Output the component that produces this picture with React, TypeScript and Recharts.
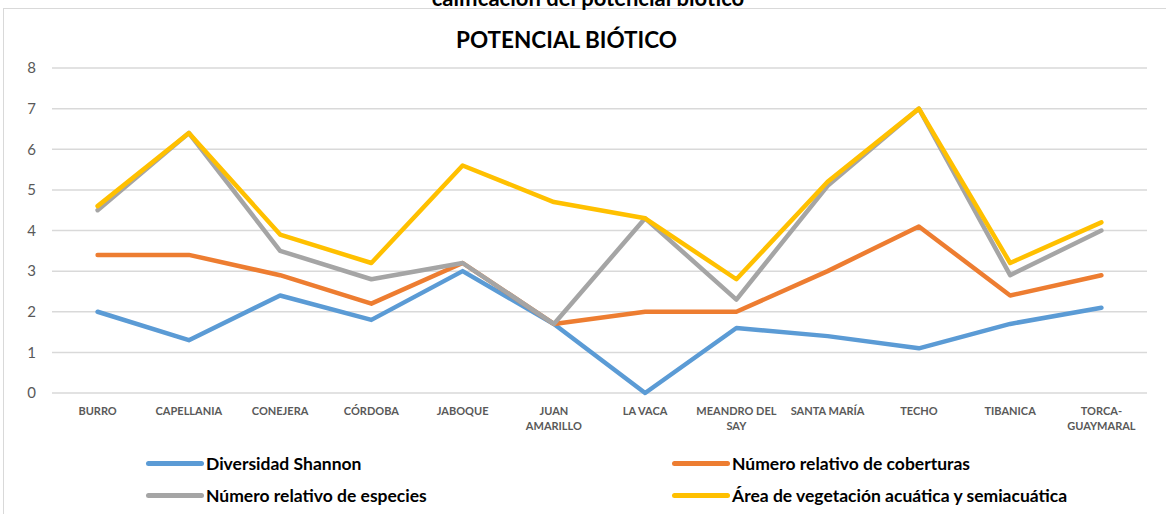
import { LineChart, Line, XAxis, YAxis, CartesianGrid } from "recharts";

const categories = [
  "BURRO",
  "CAPELLANIA",
  "CONEJERA",
  "CÓRDOBA",
  "JABOQUE",
  "JUAN AMARILLO",
  "LA VACA",
  "MEANDRO DEL SAY",
  "SANTA MARÍA",
  "TECHO",
  "TIBANICA",
  "TORCA-GUAYMARAL",
];

// how each category label wraps under the axis
const tickLines: Record<string, string[]> = {
  "JUAN AMARILLO": ["JUAN", "AMARILLO"],
  "MEANDRO DEL SAY": ["MEANDRO DEL", "SAY"],
  "TORCA-GUAYMARAL": ["TORCA-", "GUAYMARAL"],
};

const shannon = [2.0, 1.3, 2.4, 1.8, 3.0, 1.7, 0, 1.6, 1.4, 1.1, 1.7, 2.1];
const coberturas = [3.4, 3.4, 2.9, 2.2, 3.2, 1.7, 2.0, 2.0, 3.0, 4.1, 2.4, 2.9];
const especies = [4.5, 6.4, 3.5, 2.8, 3.2, 1.7, 4.3, 2.3, 5.1, 7.0, 2.9, 4.0];
const vegetacion = [4.6, 6.4, 3.9, 3.2, 5.6, 4.7, 4.3, 2.8, 5.2, 7.0, 3.2, 4.2];

const yTicks = [0, 1, 2, 3, 4, 5, 6, 7, 8];

const series = [
  { key: "shannon", name: "Diversidad Shannon", color: "#5B9BD5" },
  { key: "coberturas", name: "Número relativo de coberturas", color: "#ED7D31" },
  { key: "especies", name: "Número relativo de especies", color: "#A5A5A5" },
  { key: "vegetacion", name: "Área de vegetación acuática y semiacuática", color: "#FFC000" },
];

const data = categories.map((name, i) => ({
  name,
  shannon: shannon[i],
  coberturas: coberturas[i],
  especies: especies[i],
  vegetacion: vegetacion[i],
}));

const FONT = "Lato, 'Open Sans', sans-serif";

const CategoryTick = (props: any) => {
  const { x, y, payload } = props;
  const lines = tickLines[payload.value] || [payload.value];
  return (
    <text
      x={x}
      y={y}
      textAnchor="middle"
      fontFamily={FONT}
      fontWeight="bold"
      fontSize={11}
      fill="#595959"
    >
      {lines.map((l: string, i: number) => (
        <tspan key={i} x={x} dy={i === 0 ? 14 : 15}>
          {l}
        </tspan>
      ))}
    </text>
  );
};

const legendPos = [
  { left: 146, top: 453 },
  { left: 672, top: 453 },
  { left: 146, top: 485 },
  { left: 672, top: 485 },
];

export default function App() {
  return (
    <div
      style={{
        position: "fixed",
        left: 0,
        top: 0,
        width: 1166,
        height: 514,
        overflow: "hidden",
        background: "#fff",
        fontFamily: FONT,
      }}
    >
      <div
        style={{
          position: "absolute",
          left: 3,
          top: 8,
          width: 1200,
          height: 600,
          border: "1.5px solid #D9D9D9",
        }}
      />
      <div
        style={{
          position: "absolute",
          left: 0,
          width: 1176,
          top: -16,
          textAlign: "center",
          fontWeight: "bold",
          fontSize: 22,
          color: "#000",
        }}
      >
        calificación del potencial biótico
      </div>
      <div
        style={{
          position: "absolute",
          left: 0,
          width: 1133,
          top: 26,
          textAlign: "center",
          fontWeight: "bold",
          fontSize: 22.5,
          color: "#000",
        }}
      >
        POTENCIAL BIÓTICO
      </div>
      <div style={{ position: "absolute", left: 0, top: 0 }}>
        <LineChart
          width={1166}
          height={514}
          data={data}
          margin={{ top: 68, right: 19, bottom: 91, left: 12 }}
        >
          <CartesianGrid vertical={false} stroke="#D9D9D9" strokeWidth={1.5} />
          <XAxis
            dataKey="name"
            axisLine={false}
            tickLine={false}
            interval={0}
            height={30}
            padding={{ left: 45.6, right: 45.6 }}
            tick={<CategoryTick />}
          />
          <YAxis
            domain={[0, 8]}
            ticks={yTicks}
            width={40}
            axisLine={false}
            tickLine={false}
            tickMargin={10}
            tick={{ fontSize: 15, fill: "#595959", fontFamily: FONT }}
          />
          {series.map((s) => (
            <Line
              key={s.key}
              dataKey={s.key}
              name={s.name}
              stroke={s.color}
              strokeWidth={4.5}
              strokeLinejoin="round"
              strokeLinecap="round"
              dot={false}
              activeDot={false}
              isAnimationActive={false}
            />
          ))}
        </LineChart>
      </div>
      {series.map((s, i) => (
        <div
          key={s.key}
          style={{
            position: "absolute",
            left: legendPos[i].left,
            top: legendPos[i].top,
            display: "flex",
            alignItems: "center",
            height: 20,
          }}
        >
          <div
            style={{
              width: 58,
              height: 5,
              borderRadius: 3,
              background: s.color,
              marginRight: 2,
            }}
          />
          <span style={{ fontWeight: "bold", fontSize: 17.5, color: "#000" }}>{s.name}</span>
        </div>
      ))}
    </div>
  );
}
